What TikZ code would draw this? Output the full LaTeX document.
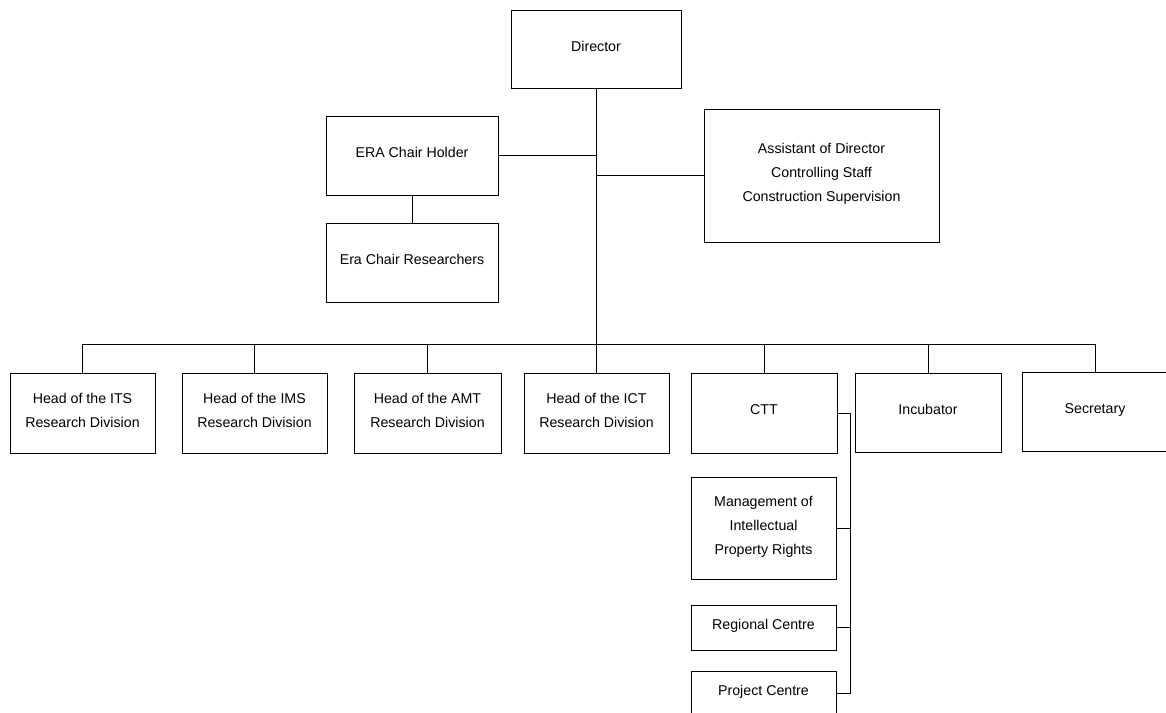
\documentclass[tikz,border=0pt]{standalone}
\usepackage{fontspec}
\setmainfont{Liberation Sans}
\usepackage{tikz}
\usetikzlibrary{calc}

\newcommand{\lowdepth}{\rule[-6pt]{0pt}{6pt}}
\tikzset{
	unit/.style={draw, line width=0.8pt, align=center, inner sep=0pt,
		minimum width=145pt, minimum height=80pt,
		font=\fontsize{14.2}{24}\selectfont, execute at end node=\lowdepth},
	link/.style={line width=0.8pt}
}

\begin{document}
\begin{tikzpicture}[x=1pt, y=-1pt]
				\useasboundingbox (0,0) rectangle (1166,712);
				\clip (0,0) rectangle (1166,712);
				% top level
				\node[unit, minimum width=170pt, minimum height=78pt] (dir) at (596,49) {Director};
				\node[unit, minimum width=172pt, minimum height=79pt] (era) at (412,155.5) {ERA Chair Holder};
				\node[unit, minimum width=172pt, minimum height=79pt] (erares) at (412,262.5) {Era Chair Researchers};
				\node[unit, minimum width=235pt, minimum height=133pt] (asst) at (821.5,175.5)
					{Assistant of Director\\Controlling Staff\\Construction Supervision};
				% divisions
				\node[unit] (its) at (82.5,413) {Head of the ITS\\Research Division};
				\node[unit] (ims) at (254.5,413) {Head of the IMS\\Research Division};
				\node[unit, minimum width=147pt] (amt) at (427.5,413) {Head of the AMT\\Research Division};
				\node[unit] (ict) at (596.5,413) {Head of the ICT\\Research Division};
				\node[unit, minimum width=146pt] (ctt) at (764,413) {CTT};
				\node[unit, minimum width=146pt, minimum height=79pt] (inc) at (928,412.5) {Incubator};
				\node[unit, minimum width=146pt, minimum height=79pt] (sec) at (1095,411.5) {Secretary};
				% CTT units
				\node[unit, minimum height=102pt] (mgmt) at (763.5,528)
					{Management of\\Intellectual\\Property Rights};
				\node[unit, minimum height=45pt] (reg) at (763.5,627.5) {Regional Centre};
				\node[unit, minimum height=45pt] (proj) at (763.5,693.5) {Project Centre};
				% connectors
				\coordinate (bus) at (596,344);
				\draw[link] (dir.south) -- (bus);
				\draw[link] (era.east) -- (era.east -| dir.south);
				\draw[link] (asst.west) -- (asst.west -| dir.south);
				\draw[link] (era.south) -- (erares.north);
				\draw[link] (its.north |- bus) -- (sec.north |- bus);
				\foreach \n in {its,ims,amt,ict,ctt,inc,sec}
					\draw[link] (\n.north) -- (\n.north |- bus);
				\coordinate (cttbus) at ($(ctt.east)+(13,0)$);
				\draw[link] (ctt.east) -- (cttbus) -- (cttbus |- proj.east);
				\foreach \n in {mgmt,reg,proj}
					\draw[link] (\n.east) -- (\n.east -| cttbus);
			\end{tikzpicture}
\end{document}
